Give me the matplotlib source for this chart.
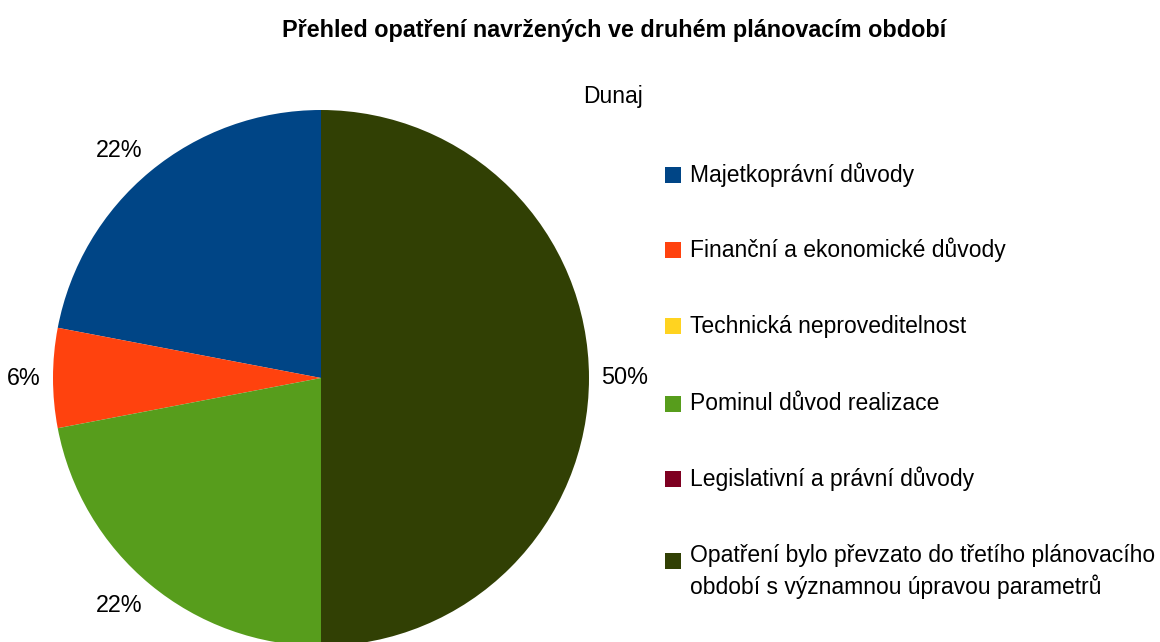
import numpy as np
import matplotlib
matplotlib.use('Agg')
import matplotlib.pyplot as plt
from matplotlib.patches import Rectangle

plt.rcParams['font.family'] = ['Liberation Sans', 'DejaVu Sans']

title = 'Přehled opatření navržených ve druhém plánovacím období'
subtitle = 'Dunaj'
categories = ['Majetkoprávní důvody',
              'Finanční a ekonomické důvody',
              'Technická neproveditelnost',
              'Pominul důvod realizace',
              'Legislativní a právní důvody',
              'Opatření bylo převzato do třetího plánovacího\nobdobí s významnou úpravou parametrů']
values = [22, 6, 0, 22, 0, 50]
colors = ['#004586', '#ff420e', '#ffd320', '#579d1c', '#7e0021', '#314004']

W, H = 1160, 642
fig = plt.figure(figsize=(W / 100, H / 100), dpi=100)
ax = fig.add_axes([0, 0, 1, 1])

cx, cy, r = 321, H - 378, 268
wedges, _ = ax.pie(values, colors=colors, startangle=90, counterclock=True,
                   center=(cx, cy), radius=r, frame=True)
ax.set_xlim(0, W)
ax.set_ylim(0, H)
ax.set_aspect('equal')
ax.axis('off')

# percentage labels just outside the pie, aligned away from the centre
total = sum(values)
for w, v in zip(wedges, values):
    if v == 0:
        continue
    ang = np.deg2rad((w.theta1 + w.theta2) / 2)
    c, s = np.cos(ang), np.sin(ang)
    x = cx + 1.045 * r * c
    y = cy + 1.045 * r * s
    ha = 'center' if abs(c) < 0.05 else ('left' if c > 0 else 'right')
    va = 'center' if abs(s) < 0.05 else ('bottom' if s > 0 else 'top')
    ax.text(x, y, '%d%%' % round(100 * v / total), ha=ha, va=va, fontsize=16.8)

ax.text(614, H - 31, title, ha='center', va='center', fontsize=16.8, fontweight='bold')
ax.text(583, H - 97, subtitle, ha='left', va='center', fontsize=16.5)

# legend
row_y = [175, 250, 326, 404, 479, 556]
for yy, lab, col in zip(row_y, categories, colors):
    off = 5 if '\n' in lab else 0
    ax.add_patch(Rectangle((665, H - yy - off - 8), 16, 16, facecolor=col, edgecolor='none'))
    if '\n' in lab:
        ax.text(690, H - yy + 12, lab, ha='left', va='top', fontsize=16.5, linespacing=1.38)
    else:
        ax.text(690, H - yy, lab, ha='left', va='center', fontsize=16.5)

fig.savefig('out.png', dpi=100)
